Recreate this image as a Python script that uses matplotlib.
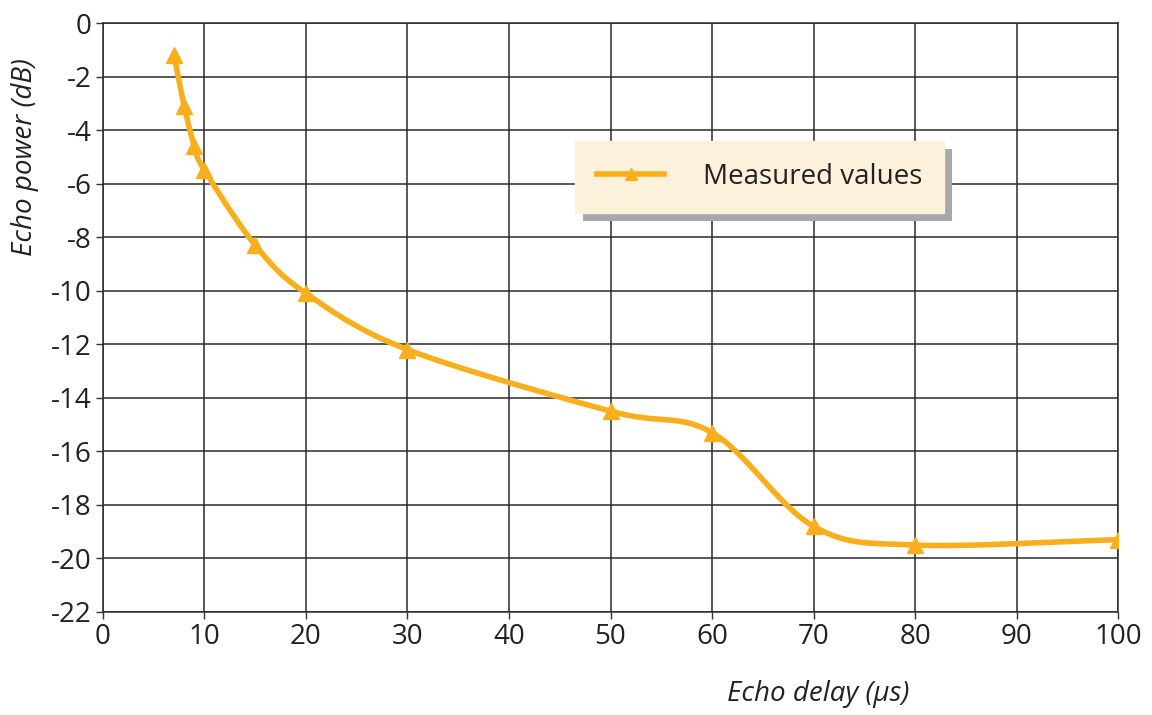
import numpy as np
import matplotlib
matplotlib.use("Agg")
import matplotlib.pyplot as plt
from matplotlib.patches import Rectangle
from matplotlib import font_manager

# Data
delay_us = [7, 8, 9, 10, 15, 20, 30, 50, 60, 70, 80, 100]
echo_db = [-1.2, -3.1, -4.6, -5.5, -8.3, -10.1, -12.2, -14.5, -15.3, -18.8, -19.5, -19.3]
series_name = "Measured values"
x_ticks = list(range(0, 101, 10))
y_ticks = list(range(-22, 1, 2))

avail = {f.name for f in font_manager.fontManager.ttflist}
fam = "Liberation Sans Narrow" if "Liberation Sans Narrow" in avail else "Open Sans"
plt.rcParams['font.family'] = [fam, 'DejaVu Sans']

color = "#F9AE1B"

def catmull_rom(xs, ys, n=30):
    xs = np.asarray(xs, float); ys = np.asarray(ys, float)
    px = np.concatenate([[2*xs[0]-xs[1]], xs, [2*xs[-1]-xs[-2]]])
    py = np.concatenate([[2*ys[0]-ys[1]], ys, [2*ys[-1]-ys[-2]]])
    outx, outy = [], []
    for i in range(1, len(px)-2):
        t = np.linspace(0, 1, n, endpoint=False)
        for P, out in ((px, outx), (py, outy)):
            p0, p1, p2, p3 = P[i-1], P[i], P[i+1], P[i+2]
            out.extend(0.5*((2*p1) + (-p0+p2)*t + (2*p0-5*p1+4*p2-p3)*t**2 + (-p0+3*p1-3*p2+p3)*t**3))
    outx.append(xs[-1]); outy.append(ys[-1])
    return np.array(outx), np.array(outy)

fig = plt.figure(figsize=(11.52, 7.15), dpi=100)
ax = fig.add_axes([0.0894, 0.1441, 0.8811, 0.8237])

sx, sy = catmull_rom(delay_us, echo_db)
ax.plot(sx, sy, color=color, lw=4, solid_capstyle='round', zorder=3)
ax.plot(delay_us, echo_db, linestyle='none', marker='^', ms=11, color=color, zorder=4)
proxy, = ax.plot([], [], color=color, lw=4, marker='^', ms=9)

ax.set_xlim(0, 100)
ax.set_ylim(-22, 0)
ax.set_xticks(x_ticks)
ax.set_yticks(y_ticks)
ax.set_xticklabels([str(v) for v in x_ticks], fontsize=20, color="#222222")
ax.set_yticklabels([str(v) for v in y_ticks], fontsize=20, color="#222222")
ax.tick_params(axis='both', direction='out', length=5, width=1, color='#333333', pad=3)
ax.grid(True, color='#2a2a2a', lw=1.1)
ax.set_axisbelow(True)
for s in ax.spines.values():
    s.set_color('#2a2a2a')
    s.set_linewidth(1.1)

ax.set_xlabel("Echo delay (µs)", fontsize=20, style='italic', color="#222222")
ax.xaxis.set_label_coords(0.705, -0.115)
ax.set_ylabel("Echo power (dB)", fontsize=20, style='italic', color="#222222")
ax.yaxis.set_label_coords(-0.063, 0.772)

leg = ax.legend([proxy], [series_name], loc='upper left', bbox_to_anchor=(0.465, 0.8),
                fontsize=20, frameon=True, fancybox=False, facecolor='#FDF1DC',
                edgecolor='#FDF1DC', framealpha=1, borderpad=0.8, handlelength=2.4,
                handletextpad=1.4, borderaxespad=0)
leg.set_zorder(6)
for t in leg.get_texts():
    t.set_color('#222222')

fig.canvas.draw()
bb = leg.get_window_extent()
shadow = Rectangle((bb.x0 + 8, bb.y0 - 8), bb.width, bb.height, transform=None,
                   facecolor='#A7A7AD', edgecolor='none', zorder=5)
ax.add_artist(shadow)

fig.savefig("out.png", dpi=100)
